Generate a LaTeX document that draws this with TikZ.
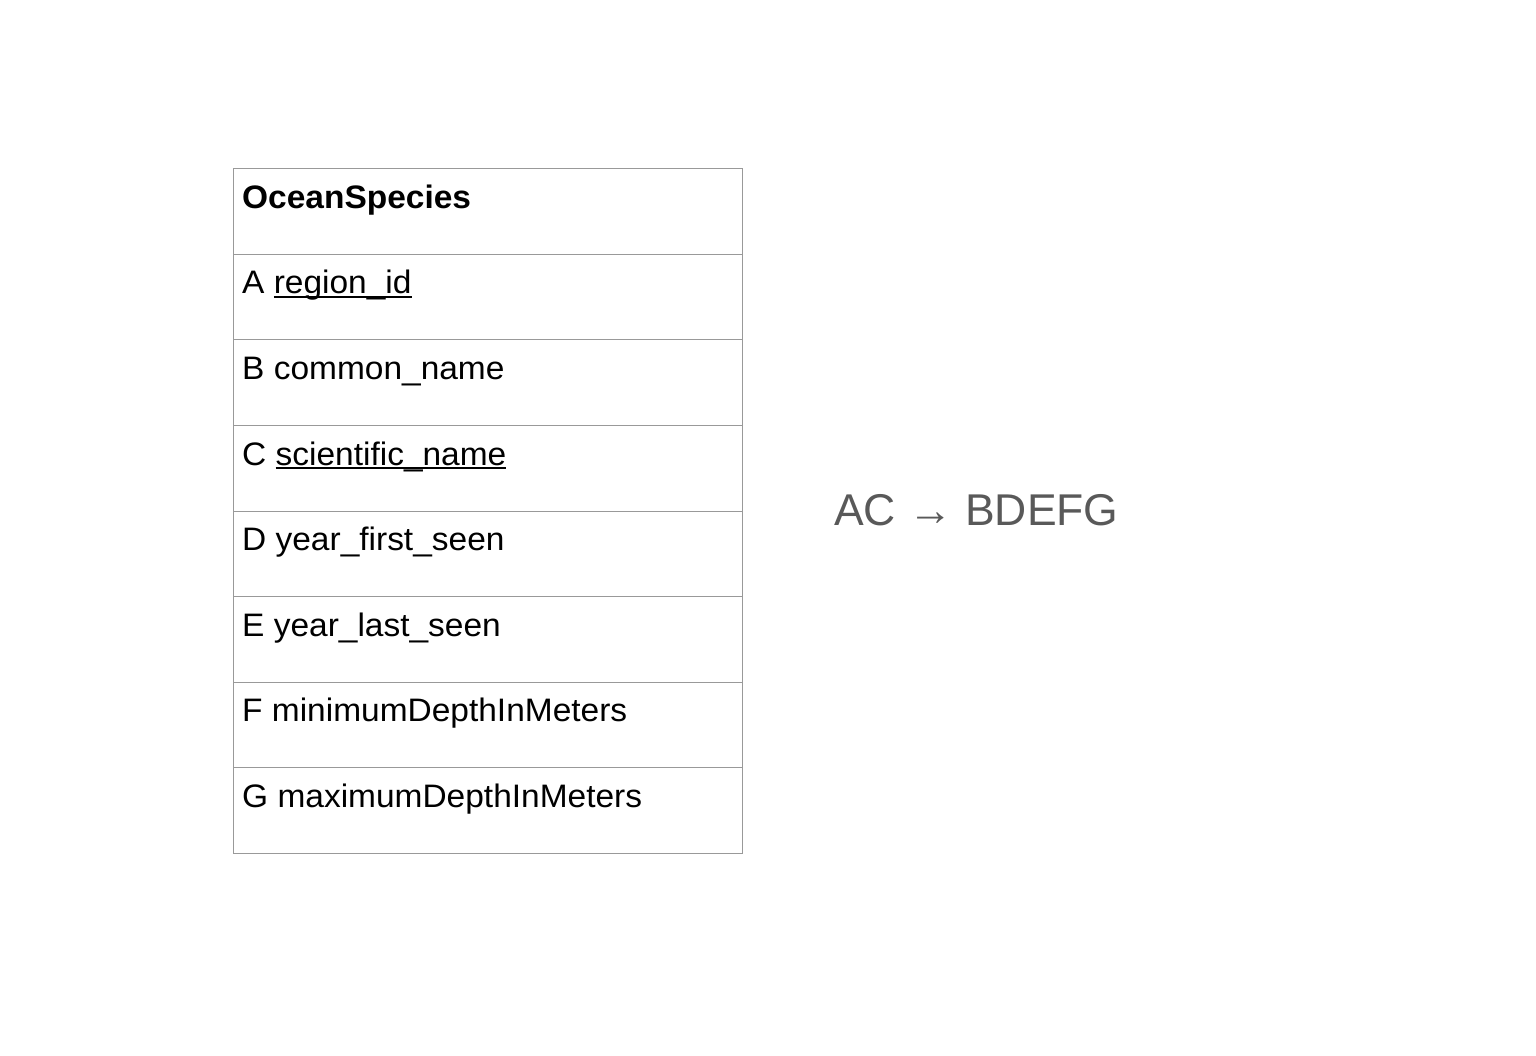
\documentclass[tikz,border=0pt]{standalone}
\usepackage{fontspec}
\setmainfont{Liberation Sans}[FakeStretch=1.03]
\newfontfamily\fdfont{Liberation Sans}
\begin{document}
\newcommand\keyul[1]{\setbox0\hbox{#1}\rlap{\rule[-4pt]{\wd0}{1.8pt}}\box0}
\tikzset{
  rowbox/.style={draw=black!40, line width=1pt, minimum width=509pt, minimum height=85.5pt, inner sep=0pt, anchor=north west},
  rowtext/.style={anchor=base west, inner sep=0pt, font=\fontsize{32.5}{38}\selectfont},
  fdtext/.style={inner sep=0pt, text=black!65, font=\fdfont\fontsize{44.5}{52}\selectfont}
}
\begin{tikzpicture}[x=1pt,y=-1pt]
\useasboundingbox (0,0) rectangle (1536,1056);
\foreach \i/\t in {0/{\bfseries OceanSpecies},1/{A \keyul{region\_id}},2/{B common\_name},3/{C \keyul{scientific\_name}},4/{D year\_first\_seen},5/{E year\_last\_seen},6/{F minimumDepthInMeters},7/{G maximumDepthInMeters}}{
  \node[rowbox] (row\i) at (232.5,{168.5+85.5*\i}) {};
  \node[rowtext] (txt\i) at (242,{168.5+85.5*\i+40}) {\t};
}
\node[fdtext, anchor=base west] (fd) at (834,525) {AC → BDEFG};
\end{tikzpicture}
\end{document}
